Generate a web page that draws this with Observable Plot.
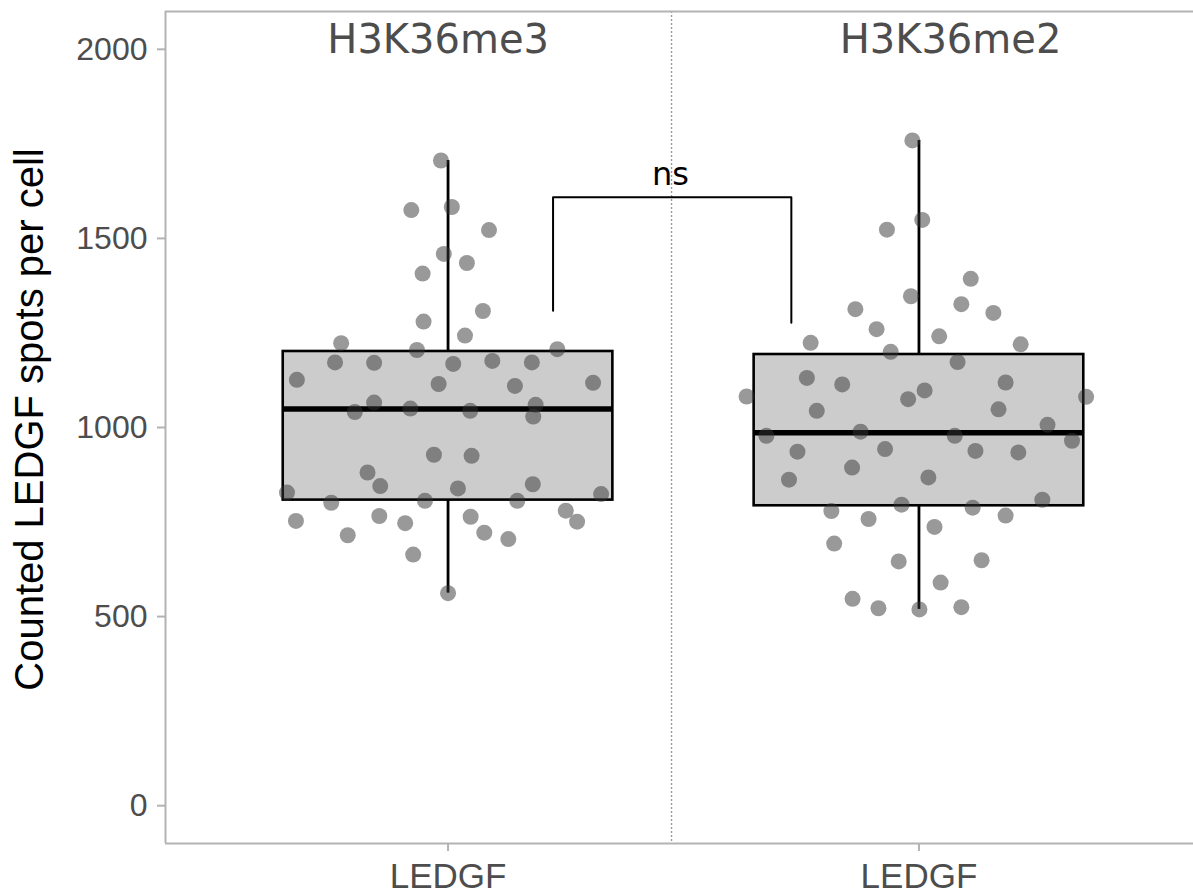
<!DOCTYPE html>
<html>
<head>
<meta charset="utf-8">
<script src="https://cdn.jsdelivr.net/npm/d3@7"></script>
<script src="https://cdn.jsdelivr.net/npm/@observablehq/plot@0.6"></script>
<style>
  html, body { margin: 0; padding: 0; background: #fff; }
  #chart svg { display: block; }
</style>
</head>
<body>
<div id="chart"></div>
<script>
// Groups (x positions 1 and 2) and their labels
const groups = [1, 2];
const groupNames = ["H3K36me3", "H3K36me2"];
const tickLabel = "LEDGF";
const yTitle = "Counted LEDGF spots per cell";
const yTicks = [0, 500, 1000, 1500, 2000];

// Box summaries per group
const boxQ1 = [808, 793];
const boxMedian = [1049, 986];
const boxQ3 = [1201, 1193];
const whiskerLow = [562, 519];
const whiskerHigh = [1706, 1759];

// Per-cell counts, H3K36me3, with horizontal jitter (in group units)
const me3Values = [1706, 1575, 1583, 1522, 1459, 1435, 1407, 1308, 1280, 1243,
  1223, 1205, 1207, 1172, 1171, 1168, 1176, 1172, 1126, 1115,
  1110, 1118, 1066, 1041, 1050, 1044, 1060, 1029, 928, 925,
  881, 845, 828, 839, 850, 824, 801, 806, 806, 753,
  766, 747, 764, 780, 751, 715, 722, 705, 664, 562];
const me3Jitter = [-0.015, -0.078, 0.008, 0.087, -0.009, 0.040, -0.054, 0.074, -0.052, 0.036,
  -0.227, -0.066, 0.232, -0.240, -0.157, 0.011, 0.094, 0.178, -0.321, -0.020,
  0.142, 0.308, -0.157, -0.198, -0.080, 0.047, 0.186, 0.181, -0.030, 0.050,
  -0.171, -0.144, -0.342, 0.021, 0.180, 0.325, -0.248, -0.049, 0.147, -0.323,
  -0.146, -0.091, 0.048, 0.250, 0.274, -0.213, 0.077, 0.128, -0.074, 0.000];

// Per-cell counts, H3K36me2
const me2Values = [1759, 1549, 1523, 1393, 1347, 1313, 1326, 1303, 1260, 1241,
  1224, 1220, 1200, 1173, 1131, 1114, 1119, 1082, 1098, 1075,
  1081, 1044, 1048, 1007, 978, 989, 978, 965, 936, 943,
  938, 934, 894, 862, 868, 779, 796, 788, 809, 758,
  767, 737, 693, 646, 649, 590, 547, 522, 519, 525];
const me2Jitter = [-0.014, 0.007, -0.068, 0.110, -0.017, -0.135, 0.090, 0.158, -0.090, 0.043,
  -0.230, 0.216, -0.060, 0.082, -0.238, -0.163, 0.184, -0.366, 0.012, -0.023,
  0.355, -0.217, 0.169, 0.273, -0.324, -0.124, 0.076, 0.325, -0.258, -0.072,
  0.120, 0.211, -0.142, -0.276, 0.020, -0.186, -0.037, 0.114, 0.262, -0.107,
  0.184, 0.033, -0.180, -0.043, 0.133, 0.046, -0.141, -0.086, 0.001, 0.090];

// Significance bracket between the two groups
const bracketX = [1.223, 1.223, 1.729, 1.729];
const bracketY = [1309, 1609, 1609, 1277];
const bracketLabel = "ns";

const boxes = groups.map((g, i) => ({
  g, q1: boxQ1[i], med: boxMedian[i], q3: boxQ3[i], lo: whiskerLow[i], hi: whiskerHigh[i]
}));
const points = [
  ...me3Values.map((v, i) => ({x: groups[0] + me3Jitter[i], y: v})),
  ...me2Values.map((v, i) => ({x: groups[1] + me2Jitter[i], y: v}))
];
const bracket = bracketX.map((x, i) => ({x, y: bracketY[i]}));

const axisGray = "#b3b3b3";
const textGray = "#4d4d4d";
const halfBox = 0.35;

const chart = Plot.plot({
  width: 1193,
  height: 895,
  marginLeft: 165,
  marginRight: 0,
  marginTop: 11,
  marginBottom: 52,
  x: {type: "linear", domain: [0.4, 2.583]},
  y: {domain: [-100, 2100]},
  style: {background: "white", fontFamily: "Liberation Sans, Arial, sans-serif"},
  marks: [
    // panel divider
    Plot.ruleX([1.4746], {stroke: "#999999", strokeWidth: 1.4, strokeDasharray: "2,2"}),
    // boxes
    Plot.rect(boxes, {x1: d => d.g - halfBox, x2: d => d.g + halfBox, y1: "q1", y2: "q3",
      fill: "#cccccc", stroke: "black", strokeWidth: 2.6}),
    Plot.ruleX(boxes, {x: "g", y1: "q3", y2: "hi", stroke: "black", strokeWidth: 2.8}),
    Plot.ruleX(boxes, {x: "g", y1: "lo", y2: "q1", stroke: "black", strokeWidth: 2.8}),
    Plot.ruleY(boxes, {y: "med", x1: d => d.g - halfBox, x2: d => d.g + halfBox,
      stroke: "black", strokeWidth: 5.5}),
    // jittered cells
    Plot.dot(points, {x: "x", y: "y", r: 8, fill: "#333333", fillOpacity: 0.5, stroke: null}),
    // significance bracket
    Plot.line(bracket, {x: "x", y: "y", stroke: "black", strokeWidth: 2}),
    Plot.text([bracketLabel], {x: 1.4725, y: 1642, lineAnchor: "bottom", fontSize: 32,
      fontFamily: "DejaVu Sans", fill: "black"}),
    // group labels
    Plot.text(groupNames, {x: [0.979, 2.067], y: 1991, lineAnchor: "bottom", fontSize: 40,
      fontFamily: "DejaVu Sans", fill: textGray}),
    // panel outline
    Plot.ruleX([0.4], {stroke: axisGray, strokeWidth: 2}),
    Plot.ruleY([2100], {stroke: axisGray, strokeWidth: 2}),
    Plot.ruleY([-100], {stroke: axisGray, strokeWidth: 2}),
    // axes
    Plot.axisY({ticks: yTicks, tickFormat: d => String(d), tickSize: 8, tickPadding: 10,
      fontSize: 32, label: null, stroke: axisGray, strokeWidth: 2, fill: textGray}),
    Plot.axisX({ticks: groups, tickFormat: () => tickLabel, tickSize: 8, tickPadding: 12,
      fontSize: 35, label: null, stroke: axisGray, strokeWidth: 2, fill: textGray}),
    Plot.text([yTitle], {frameAnchor: "left", rotate: -90, dx: -123, dy: -8,
      lineAnchor: "bottom", textAnchor: "middle", fontSize: 40, fill: "black"})
  ]
});

document.getElementById("chart").appendChild(chart);
</script>
</body>
</html>
